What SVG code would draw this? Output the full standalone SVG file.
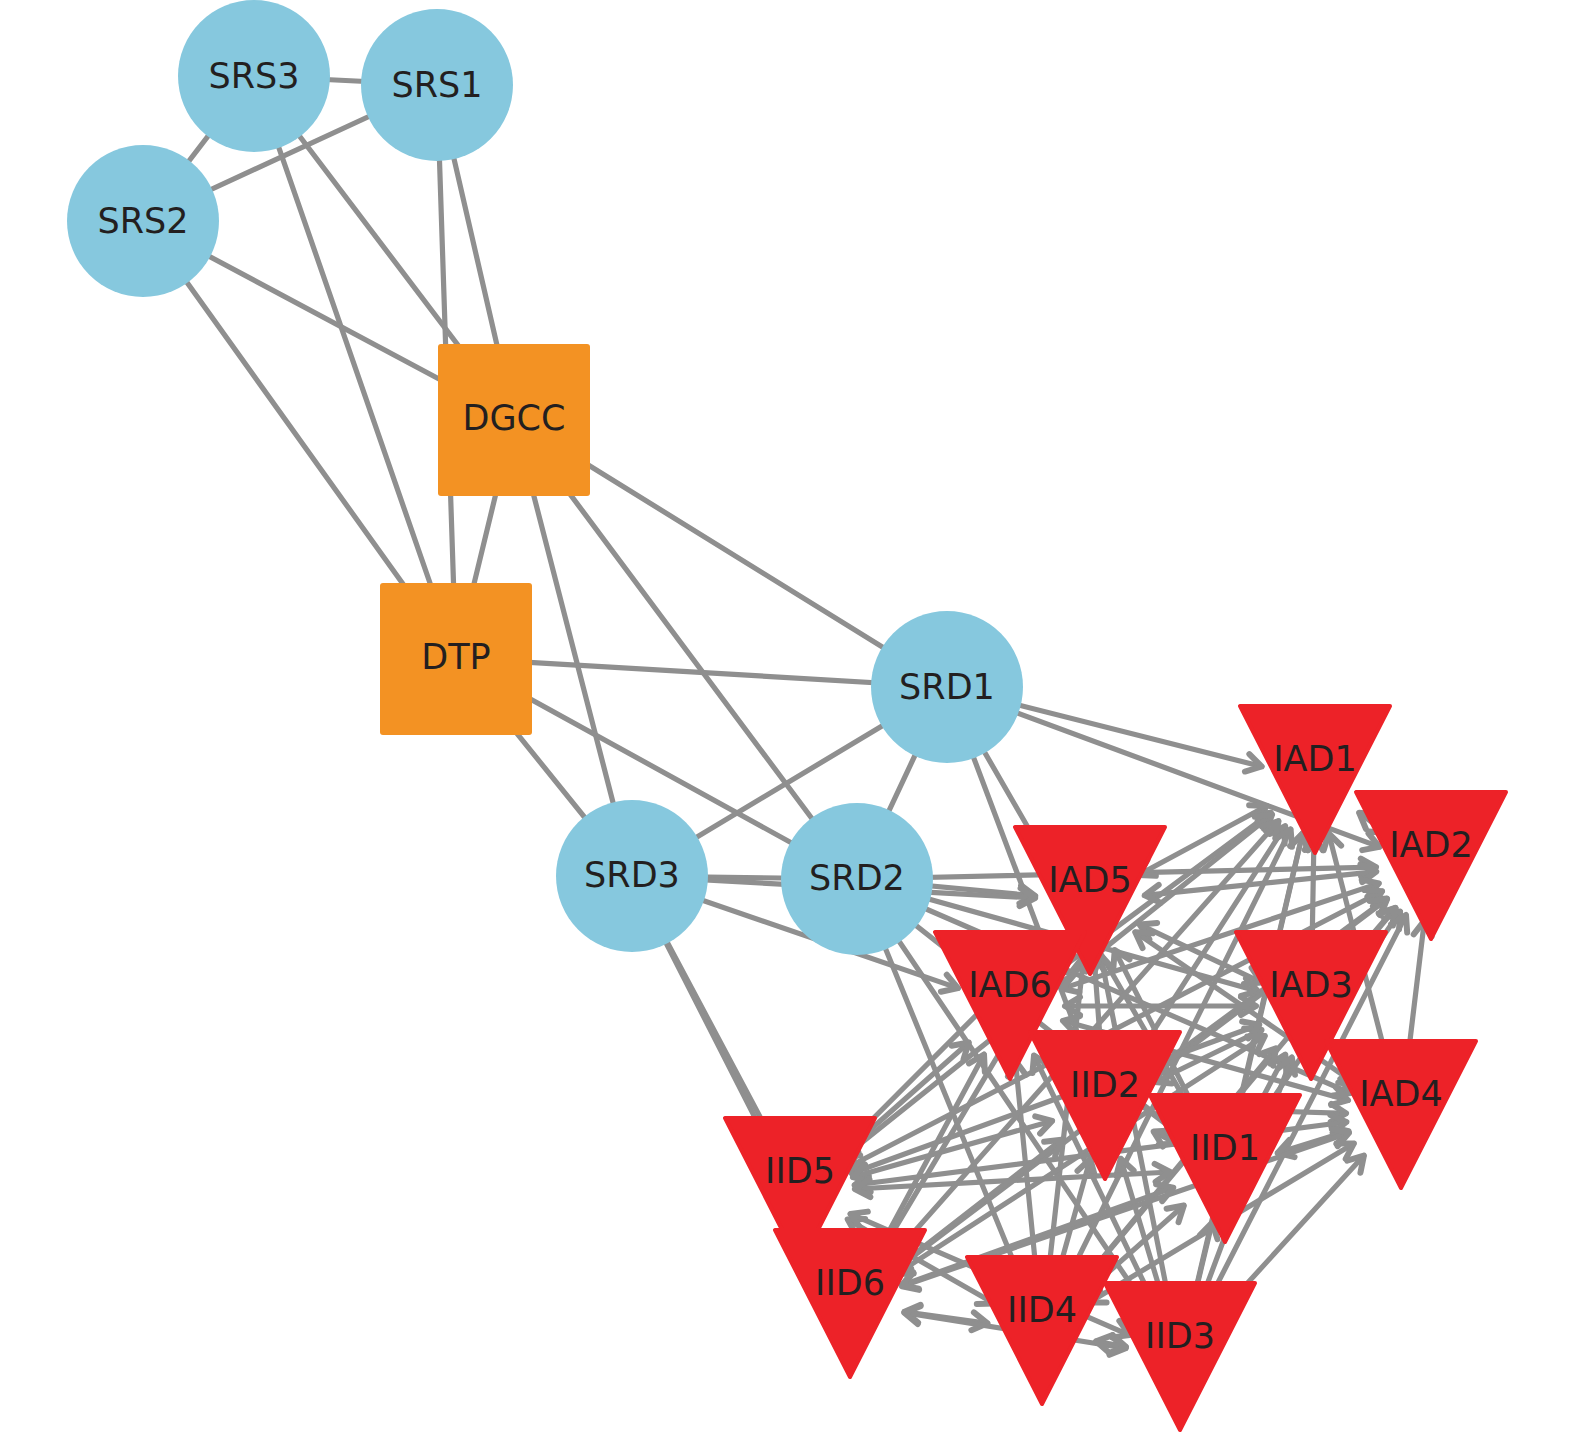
<svg xmlns="http://www.w3.org/2000/svg" width="1575" height="1434" viewBox="0 0 1575 1434">
<style>
.e{stroke:#8f8f8f;stroke-width:5.2;fill:none;stroke-linecap:round}
.b{marker-start:url(#ah);marker-end:url(#ah)}
.d{marker-end:url(#ah)}
.c{fill:#86c8de}
.s{fill:#f39223}
.t{fill:#ed2228;stroke:#ed2228;stroke-width:4;stroke-linejoin:round}
.l{font-family:"DejaVu Sans",sans-serif;font-size:35px;fill:#231f20;text-anchor:middle}
</style>
<defs>
<marker id="ah" markerUnits="userSpaceOnUse" markerWidth="40" markerHeight="40" refX="0" refY="0" orient="auto-start-reverse" overflow="visible">
<path d="M-15,-9 L0,0 L-15,9" fill="none" stroke="#8f8f8f" stroke-width="6" stroke-linecap="round" stroke-linejoin="round"/>
</marker>
</defs>
<rect width="1575" height="1434" fill="#ffffff"/>
<g id="connectors">
<line class="e" x1="254" y1="76" x2="437" y2="85"/>
<line class="e" x1="254" y1="76" x2="143" y2="221"/>
<line class="e" x1="143" y1="221" x2="437" y2="85"/>
<line class="e" x1="254" y1="76" x2="456" y2="658"/>
<line class="e" x1="254" y1="76" x2="514" y2="419"/>
<line class="e" x1="437" y1="85" x2="456" y2="658"/>
<line class="e" x1="437" y1="85" x2="514" y2="419"/>
<line class="e" x1="143" y1="221" x2="514" y2="419"/>
<line class="e" x1="143" y1="221" x2="456" y2="658"/>
<line class="e" x1="514" y1="419" x2="456" y2="658"/>
<line class="e" x1="514" y1="419" x2="947" y2="687"/>
<line class="e" x1="514" y1="419" x2="632" y2="876"/>
<line class="e" x1="514" y1="419" x2="857" y2="879"/>
<line class="e" x1="456" y1="658" x2="947" y2="687"/>
<line class="e" x1="456" y1="658" x2="857" y2="879"/>
<line class="e" x1="456" y1="658" x2="632" y2="876"/>
<line class="e" x1="947" y1="687" x2="632" y2="876"/>
<line class="e" x1="947" y1="687" x2="857" y2="879"/>
<line class="e" x1="632" y1="876" x2="857" y2="879"/>
<line class="e d" x1="947" y1="687" x2="1261.7" y2="766.5"/>
<line class="e d" x1="947" y1="687" x2="1379.4" y2="846.9"/>
<line class="e d" x1="947" y1="687" x2="1085.6" y2="1054.5"/>
<line class="e d" x1="947" y1="687" x2="1197.5" y2="1121.4"/>
<line class="e d" x1="857" y1="879" x2="1035.2" y2="895.8"/>
<line class="e d" x1="857" y1="879" x2="1376" y2="867.2"/>
<line class="e d" x1="857" y1="879" x2="1258" y2="991.2"/>
<line class="e d" x1="857" y1="879" x2="1350.5" y2="1093.1"/>
<line class="e d" x1="857" y1="879" x2="1181.8" y2="1135"/>
<line class="e d" x1="857" y1="879" x2="1021.2" y2="1280.1"/>
<line class="e d" x1="857" y1="879" x2="1149.2" y2="1311.4"/>
<line class="e d" x1="632" y1="876" x2="1035.1" y2="898"/>
<line class="e d" x1="632" y1="876" x2="958" y2="988.1"/>
<line class="e d" x1="632" y1="876" x2="774.2" y2="1143.4"/>
<line class="e d" x1="632" y1="876" x2="825" y2="1255"/>
<line class="e b" x1="1359.2" y1="812.8" x2="1386.8" y2="833.2"/>
<line class="e b" x1="1266.6" y1="806" x2="1138.4" y2="875"/>
<line class="e b" x1="1270.8" y1="812.7" x2="1054.2" y2="973.3"/>
<line class="e b" x1="1314" y1="835" x2="1312" y2="951"/>
<line class="e b" x1="1328.7" y1="833.3" x2="1387.3" y2="1061.7"/>
<line class="e b" x1="1285.2" y1="826.2" x2="1134.8" y2="1059.8"/>
<line class="e b" x1="1302.6" y1="833.6" x2="1237.4" y2="1115.4"/>
<line class="e b" x1="1272.1" y1="814.4" x2="842.9" y2="1157.6"/>
<line class="e b" x1="1278.5" y1="821.1" x2="886.5" y2="1262.9"/>
<line class="e b" x1="1290.6" y1="829.3" x2="1066.4" y2="1281.7"/>
<line class="e b" x1="1302.5" y1="833.5" x2="1192.5" y2="1303.5"/>
<line class="e b" x1="1376.3" y1="871.6" x2="1144.7" y2="895.4"/>
<line class="e b" x1="1378.8" y1="883.4" x2="1062.2" y2="988.6"/>
<line class="e b" x1="1395.2" y1="907.8" x2="1346.8" y2="964.2"/>
<line class="e b" x1="1424.4" y1="920.6" x2="1407.6" y2="1060.4"/>
<line class="e b" x1="1386.7" y1="898.6" x2="1149.3" y2="1073.4"/>
<line class="e b" x1="1400.1" y1="911.5" x2="1255.9" y2="1123.5"/>
<line class="e b" x1="1382.1" y1="891.2" x2="848.9" y2="1166.8"/>
<line class="e b" x1="1387.1" y1="899.1" x2="893.9" y2="1270.9"/>
<line class="e b" x1="1395.7" y1="908.2" x2="1077.3" y2="1288.8"/>
<line class="e b" x1="1406" y1="915" x2="1205" y2="1308"/>
<line class="e b" x1="1056.7" y1="944.8" x2="1043.3" y2="962.2"/>
<line class="e b" x1="1139.7" y1="924.6" x2="1261.3" y2="982.4"/>
<line class="e b" x1="1135.3" y1="932.2" x2="1355.7" y2="1083.8"/>
<line class="e b" x1="1094" y1="955.9" x2="1101" y2="1051.1"/>
<line class="e b" x1="1114.7" y1="950.1" x2="1200.3" y2="1119.9"/>
<line class="e b" x1="1051.2" y1="940" x2="838.8" y2="1153"/>
<line class="e b" x1="1061.9" y1="948.2" x2="878.1" y2="1256.8"/>
<line class="e b" x1="1083.9" y1="955.7" x2="1048.1" y2="1276.3"/>
<line class="e b" x1="1100.6" y1="955" x2="1169.4" y2="1303"/>
<line class="e b" x1="1065" y1="1006" x2="1256" y2="1006"/>
<line class="e b" x1="1063" y1="1020.8" x2="1348" y2="1100.2"/>
<line class="e b" x1="1047.9" y1="1045.9" x2="1067.1" y2="1066.1"/>
<line class="e b" x1="1053.8" y1="1039.2" x2="1181.2" y2="1135.8"/>
<line class="e b" x1="968.8" y1="1042.5" x2="841.2" y2="1155.5"/>
<line class="e b" x1="984" y1="1054.5" x2="876" y2="1255.5"/>
<line class="e b" x1="1015.4" y1="1060.7" x2="1036.6" y2="1276.3"/>
<line class="e b" x1="1034" y1="1055.5" x2="1156" y2="1307.5"/>
<line class="e b" x1="1346" y1="1048.4" x2="1366" y2="1072.6"/>
<line class="e b" x1="1261.5" y1="1030" x2="1154.5" y2="1082"/>
<line class="e b" x1="1285.3" y1="1054.6" x2="1250.7" y2="1120.4"/>
<line class="e b" x1="1259.3" y1="1024.8" x2="851.7" y2="1173.2"/>
<line class="e b" x1="1264.8" y1="1035.9" x2="896.2" y2="1274.1"/>
<line class="e b" x1="1275.9" y1="1048.4" x2="1077.1" y2="1288.6"/>
<line class="e b" x1="1291.8" y1="1057.5" x2="1199.2" y2="1305.5"/>
<line class="e b" x1="1346" y1="1113.3" x2="1160" y2="1107.7"/>
<line class="e b" x1="1348.4" y1="1131.1" x2="1277.6" y2="1152.9"/>
<line class="e b" x1="1346.4" y1="1122" x2="854.6" y2="1185"/>
<line class="e b" x1="1349" y1="1132.8" x2="902" y2="1286.2"/>
<line class="e b" x1="1353.9" y1="1143.4" x2="1089.1" y2="1302.6"/>
<line class="e b" x1="1363.9" y1="1155.6" x2="1217.1" y2="1316.4"/>
<line class="e b" x1="1153.7" y1="1131.6" x2="1176.3" y2="1143.4"/>
<line class="e b" x1="1052.1" y1="1120.9" x2="852.9" y2="1177.1"/>
<line class="e b" x1="1061.5" y1="1139.7" x2="893.5" y2="1270.3"/>
<line class="e b" x1="1090.2" y1="1158.9" x2="1056.8" y2="1278.1"/>
<line class="e b" x1="1120.7" y1="1158.7" x2="1164.3" y2="1304.3"/>
<line class="e b" x1="1170.1" y1="1172" x2="854.9" y2="1189"/>
<line class="e b" x1="1173.3" y1="1187.6" x2="901.7" y2="1285.4"/>
<line class="e b" x1="1183.8" y1="1205.5" x2="1083.2" y2="1294.5"/>
<line class="e b" x1="1212.2" y1="1222.5" x2="1192.8" y2="1303.5"/>
<line class="e b" x1="822.4" y1="1242.2" x2="827.6" y2="1253.8"/>
<line class="e b" x1="847.7" y1="1219.4" x2="994.3" y2="1303.6"/>
<line class="e b" x1="850.5" y1="1213.9" x2="1129.5" y2="1335.1"/>
<line class="e b" x1="904.5" y1="1311.7" x2="987.5" y2="1323.3"/>
<line class="e b" x1="904.3" y1="1312.7" x2="1125.7" y2="1348.3"/>
<line class="e b" x1="1096.1" y1="1341.2" x2="1125.9" y2="1346.8"/>
</g>
<g id="SRS3"><circle class="c" cx="254" cy="76" r="76"/><text class="l" x="254" y="88">SRS3</text></g>
<g id="SRS1"><circle class="c" cx="437" cy="85" r="76"/><text class="l" x="437" y="97">SRS1</text></g>
<g id="SRS2"><circle class="c" cx="143" cy="221" r="76"/><text class="l" x="143" y="233">SRS2</text></g>
<g id="DGCC"><rect class="s" x="438" y="344" width="152" height="152" rx="3"/><text class="l" x="514" y="430">DGCC</text></g>
<g id="DTP"><rect class="s" x="380" y="583" width="152" height="152" rx="3"/><text class="l" x="456" y="669">DTP</text></g>
<g id="SRD1"><circle class="c" cx="947" cy="687" r="76"/><text class="l" x="947" y="699">SRD1</text></g>
<g id="SRD3"><circle class="c" cx="632" cy="876" r="76"/><text class="l" x="632" y="887">SRD3</text></g>
<g id="SRD2"><circle class="c" cx="857" cy="879" r="76"/><text class="l" x="857" y="890">SRD2</text></g>
<g id="IAD1"><polygon class="t" points="1240,706 1390,706 1315,853"/><text class="l" x="1315" y="771">IAD1</text></g>
<g id="IAD2"><polygon class="t" points="1356,792 1506,792 1431,939"/><text class="l" x="1431" y="857">IAD2</text></g>
<g id="IAD5"><polygon class="t" points="1015,827 1165,827 1090,974"/><text class="l" x="1090" y="892">IAD5</text></g>
<g id="IAD6"><polygon class="t" points="935,932 1085,932 1010,1079"/><text class="l" x="1010" y="997">IAD6</text></g>
<g id="IAD3"><polygon class="t" points="1236,932 1386,932 1311,1079"/><text class="l" x="1311" y="997">IAD3</text></g>
<g id="IAD4"><polygon class="t" points="1326,1041 1476,1041 1401,1188"/><text class="l" x="1401" y="1106">IAD4</text></g>
<g id="IID2"><polygon class="t" points="1030,1032 1180,1032 1105,1179"/><text class="l" x="1105" y="1097">IID2</text></g>
<g id="IID1"><polygon class="t" points="1150,1095 1300,1095 1225,1242"/><text class="l" x="1225" y="1160">IID1</text></g>
<g id="IID5"><polygon class="t" points="725,1118 875,1118 800,1265"/><text class="l" x="800" y="1183">IID5</text></g>
<g id="IID6"><polygon class="t" points="775,1230 925,1230 850,1377"/><text class="l" x="850" y="1295">IID6</text></g>
<g id="IID4"><polygon class="t" points="967,1257 1117,1257 1042,1404"/><text class="l" x="1042" y="1322">IID4</text></g>
<g id="IID3"><polygon class="t" points="1105,1283 1255,1283 1180,1430"/><text class="l" x="1180" y="1348">IID3</text></g>
</svg>
